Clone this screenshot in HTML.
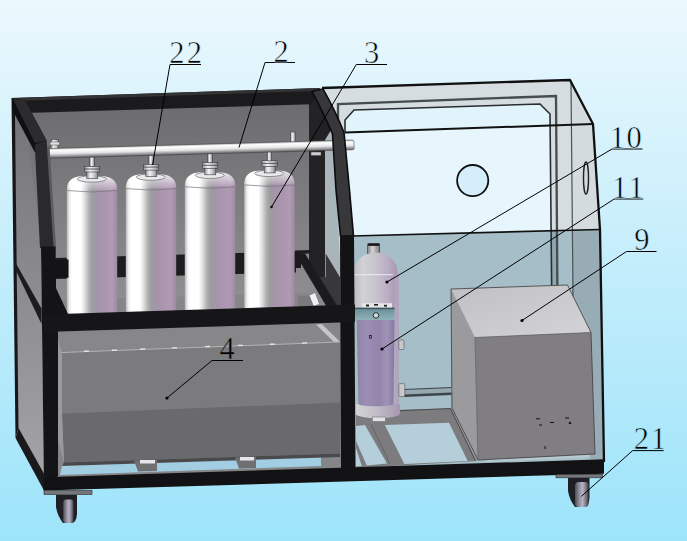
<!DOCTYPE html>
<html><head><meta charset="utf-8">
<style>
html,body{margin:0;padding:0;background:#fff;}
body{width:687px;height:541px;overflow:hidden;}
svg{display:block;}
text{font-family:"Liberation Serif","DejaVu Serif",serif;font-size:30.5px;fill:#000;stroke-width:0.55px;}
</style></head>
<body>
<svg width="687" height="541" viewBox="0 0 687 541">
<defs>
 <linearGradient id="bg" x1="0" y1="0" x2="0" y2="1">
  <stop offset="0" stop-color="#ebf8fd"/>
  <stop offset="0.5" stop-color="#c3edfb"/>
  <stop offset="1" stop-color="#9de4fa"/>
 </linearGradient>
 <linearGradient id="cyl" x1="0" y1="0" x2="1" y2="0">
  <stop offset="0" stop-color="#b4b4b6"/>
  <stop offset="0.05" stop-color="#ececec"/>
  <stop offset="0.1" stop-color="#ffffff"/>
  <stop offset="0.28" stop-color="#ffffff"/>
  <stop offset="0.36" stop-color="#dcdcdc"/>
  <stop offset="0.44" stop-color="#b0b0b2"/>
  <stop offset="0.5" stop-color="#9e9ea0"/>
  <stop offset="0.56" stop-color="#a097a3"/>
  <stop offset="0.65" stop-color="#a793ab"/>
  <stop offset="0.9" stop-color="#b09ab4"/>
  <stop offset="1" stop-color="#9e8aa2"/>
 </linearGradient>
 <linearGradient id="panel" x1="0" y1="0" x2="0" y2="1">
  <stop offset="0" stop-color="#6c6c6e"/>
  <stop offset="1" stop-color="#909092"/>
 </linearGradient>
 <linearGradient id="pipe" x1="0" y1="0" x2="0" y2="1">
  <stop offset="0" stop-color="#b4b4b6"/>
  <stop offset="0.2" stop-color="#ffffff"/>
  <stop offset="0.55" stop-color="#e6e6e8"/>
  <stop offset="0.8" stop-color="#9c9c9e"/>
  <stop offset="1" stop-color="#606062"/>
 </linearGradient>
 <linearGradient id="scyl" x1="0" y1="0" x2="1" y2="0">
  <stop offset="0" stop-color="#bcbcc0"/>
  <stop offset="0.2" stop-color="#d2d2d6"/>
  <stop offset="0.5" stop-color="#c6c4cc"/>
  <stop offset="0.8" stop-color="#b9abc3"/>
  <stop offset="1" stop-color="#a895b2"/>
 </linearGradient>
 <linearGradient id="pcyl" x1="0" y1="0" x2="1" y2="0">
  <stop offset="0" stop-color="#8d84a6"/>
  <stop offset="0.25" stop-color="#9c8eb6"/>
  <stop offset="0.6" stop-color="#9484ac"/>
  <stop offset="0.8" stop-color="#a193b7"/>
  <stop offset="1" stop-color="#8878a0"/>
 </linearGradient>
 <linearGradient id="sbase" x1="0" y1="0" x2="1" y2="0">
  <stop offset="0" stop-color="#d4d4d6"/>
  <stop offset="0.5" stop-color="#c0bcc6"/>
  <stop offset="1" stop-color="#a797b0"/>
 </linearGradient>
 <linearGradient id="teal" x1="0" y1="0" x2="0" y2="1">
  <stop offset="0" stop-color="#6a8c96"/>
  <stop offset="1" stop-color="#93b4bc"/>
 </linearGradient>
 <linearGradient id="noz" x1="0" y1="0" x2="1" y2="0">
  <stop offset="0" stop-color="#8a8a8c"/>
  <stop offset="0.4" stop-color="#d4d4d6"/>
  <stop offset="1" stop-color="#7a7a7c"/>
 </linearGradient>
 <linearGradient id="dome" x1="0" y1="0" x2="0" y2="1">
  <stop offset="0" stop-color="#ffffff" stop-opacity="0.75"/>
  <stop offset="1" stop-color="#ffffff" stop-opacity="0.1"/>
 </linearGradient>
 <linearGradient id="valve" x1="0" y1="0" x2="1" y2="0">
  <stop offset="0" stop-color="#9a9a9e"/>
  <stop offset="0.35" stop-color="#f4f4f6"/>
  <stop offset="0.7" stop-color="#c4c4c8"/>
  <stop offset="1" stop-color="#85858a"/>
 </linearGradient>
 <linearGradient id="wheel" x1="0" y1="0" x2="1" y2="0">
  <stop offset="0" stop-color="#4e4e56"/>
  <stop offset="0.3" stop-color="#8e8c9a"/>
  <stop offset="0.55" stop-color="#b6b4c2"/>
  <stop offset="0.8" stop-color="#7c7a88"/>
  <stop offset="1" stop-color="#3c3c44"/>
 </linearGradient>
 <linearGradient id="lpanel" x1="0" y1="0" x2="0" y2="1">
  <stop offset="0" stop-color="#747476"/>
  <stop offset="0.5" stop-color="#8c8c8e"/>
  <stop offset="1" stop-color="#a4a4a6"/>
 </linearGradient>
 <linearGradient id="boxtop" x1="0" y1="0" x2="1" y2="1">
  <stop offset="0" stop-color="#c0c0c2"/>
  <stop offset="1" stop-color="#d4d4d6"/>
 </linearGradient>
</defs>
<rect width="687" height="541" fill="url(#bg)"/>

<!-- ============ GLASS ENCLOSURE (right) ============ -->
<g id="glass">
 <!-- top face + back border -->
 <polygon points="322,88 570,80 593,124 600,229.500 345,236 345,132" fill="#d5dde0"/>
 <!-- back wall door opening -->
 <polygon points="354,110 540,104 550,114 550,231 352,236 345,132 345,120" fill="#e1f4fb"/>
 <!-- front glass clear area -->
 <polygon points="345,132.500 549.500,125.500 550,231 352,236" fill="#e6f6fc"/>
 <!-- right side face -->
 <polygon points="571,82 593,124 600,229.500 572,230" fill="#d3dbde"/>
 <!-- lower tinted region -->
 <polygon points="352,236 600,229.500 604,462 352,470" fill="#a5bec8"/>
 <polygon points="572,230 600,229.500 604,462 574,455" fill="#98acb5"/>
 <polygon points="551.300,231 557.200,230.800 558,375 552.500,375" fill="#8fa7b1"/>
 <!-- door frame lines -->
 <polyline points="338,135 338,104 556,96 558,375" fill="none" stroke="#464c50" stroke-width="2.3"/>
 <polyline points="345,132 345,120 354,110 540,104 550,114 552.500,375" fill="none" stroke="#2a2e30" stroke-width="1.6"/>
 <line x1="571" y1="82" x2="574" y2="400" stroke="#4a5256" stroke-width="1.2"/>
 <!-- outline -->
 <polyline points="322,88 570,80 593,124 600,230 604,462" fill="none" stroke="#111" stroke-width="2.3" stroke-linejoin="round"/>
 <polyline points="345,132.5 593,124" fill="none" stroke="#111" stroke-width="2"/>
 <polyline points="352,236 600,229.500" fill="none" stroke="#111" stroke-width="1.7"/>
 <circle cx="472.700" cy="180.600" r="15.600" fill="#d5effa" stroke="#111" stroke-width="1.8"/>
 <ellipse cx="586" cy="178" rx="2.5" ry="16" fill="none" stroke="#222" stroke-width="1.4"/>
</g>

<!-- floor of enclosure -->
<g id="floor">
 <polygon points="356,411 451.500,408.500 477,461 356,468" fill="#7c7c7f"/>
 <polygon points="356,426 365,425 387,463.500 356,466.500" fill="#b4ceda"/>
 <polygon points="384.800,425 449,422.700 467.700,461 404.400,464" fill="#b4ceda"/>
 <polyline points="371,424 390,464" fill="none" stroke="#5e5e62" stroke-width="0.8"/>
 <polyline points="399,410.700 450.500,408.500 475.500,461" fill="none" stroke="#4a4a4e" stroke-width="1"/>
 <polygon points="356,448 356,441 367,466 362,466.500" fill="#7c7c7f"/>
</g>

<!-- ============ BOX 9 ============ -->
<g id="box9">
 <polygon points="487,458.500 590,453.500 590,457.500 487,462" fill="#b8c8d0"/>
 <polygon points="451,289 567.5,285 591,332.5 475,337.5" fill="url(#boxtop)"/>
 <polygon points="475,337.5 591,332.5 595,454 478,460" fill="#807e82"/>
 <polygon points="451,289 475,337.5 478,460 476,460 451.400,408.500" fill="#9b9b9d"/>
 <polygon points="451,289 567.5,285 591,332.5 595,454 478,460 452,408" fill="none" stroke="#3c3c3e" stroke-width="0.8"/>
 <polyline points="475,337.5 591,332.5" fill="none" stroke="#5a5a5c" stroke-width="0.7"/>
 <polyline points="475,337.5 478,460" fill="none" stroke="#5a5a5c" stroke-width="0.7"/>
 <g fill="#111"><rect x="536" y="418.300" width="4" height="1"/><rect x="539" y="424.500" width="3" height="1"/><rect x="550" y="422" width="4" height="1"/><rect x="565" y="417.500" width="4" height="1"/><polygon points="570,421 571.500,424 568.500,424"/><rect x="544.600" y="446" width="1" height="3"/></g>
</g>

<!-- ============ SMALL CYLINDER 10/11 ============ -->
<g id="smallcyl">
 <polygon points="404,389 451.500,387 451.500,395 404,397" fill="#3d4549"/>
 <polygon points="404,390 451.500,388 451.500,392.500 404,394.500" fill="#96a8b0"/>
 <rect x="367.700" y="244" width="12" height="10" fill="url(#noz)" stroke="#3a3a3c" stroke-width="0.7"/>
 <rect x="368.200" y="243.300" width="11" height="2.600" fill="#18181a"/>
 <path d="M353.900,308 L353.900,271 A21.700,18.500 0 0 1 397.300,271 L397.300,308 Z" fill="url(#scyl)"/>
 <path d="M354.500,274.700 L393,274.700" stroke="#f0f0f2" stroke-width="0.9" fill="none"/>
 <rect x="362" y="303.200" width="30" height="5" fill="#e6e6e8"/>
 <rect x="366" y="304.500" width="3" height="2" fill="#222"/><rect x="374" y="304" width="4" height="1.600" fill="#222"/><rect x="384" y="304.800" width="3" height="1.800" fill="#222"/>
 <rect x="394.500" y="275" width="4.500" height="135" fill="#b2a5be"/>
 <rect x="354.800" y="308" width="39.700" height="12.500" fill="url(#teal)"/>
 <rect x="354.800" y="307.600" width="39.700" height="1.600" fill="#3e5862"/>
 <path d="M356.600,320 L394.500,320 L393.600,404 A17.500,2.500 0 0 1 358.500,404 Z" fill="url(#pcyl)"/>
 <path d="M355.700,404 L358.500,404 A17.500,2.500 0 0 0 393.600,404 L400,404 L400,414 A22.200,4.500 0 0 1 355.700,414 Z" fill="url(#sbase)"/>
 <rect x="372.300" y="417" width="13" height="4.500" fill="#e2e2e4" stroke="#666" stroke-width="0.5"/>
 <rect x="398.800" y="340" width="5.200" height="9.500" rx="1" fill="#c9c9cb" stroke="#55555a" stroke-width="0.6"/>
 <rect x="398.800" y="383.600" width="6" height="13" rx="1" fill="#c9c9cb" stroke="#55555a" stroke-width="0.6"/>
 <circle cx="376" cy="315.400" r="2.800" fill="#c6d8dc" stroke="#222" stroke-width="0.9"/>
 <rect x="369.500" y="335.500" width="2" height="2.600" fill="none" stroke="#111" stroke-width="0.7"/>
</g>

<!-- ============ LEFT FRAME ============ -->
<g id="frame">
 <!-- left side panel -->
 <polygon points="14,100 40,145 44,480 18,430" fill="url(#lpanel)"/>
 <!-- back panel -->
 <polygon points="25,110 312,102 312,300 47,308" fill="url(#panel)"/>
 <polygon points="47,300 345,292 345,470 47,480" fill="#868688"/>
 <!-- glimpse strip right of back post -->
 <polygon points="324.600,122 334,128 342,300 325,300" fill="#a9b5bb"/>
 <!-- back right post -->
 <polygon points="309,90 322,90 334,125 325,140 325,278 309,278" fill="#232325"/>
 <polygon points="309,278 345,278 345,310 309,310" fill="#8a8a8c"/>
 <!-- mid shelf back beam -->
 <polygon points="55,258 296,251.500 296,272.500 55,279" fill="#1d1d1f"/>
 <polygon points="295,250.500 311,250 311,253.500 295,254" fill="#1d1d1f"/>
 <!-- top beam -->
 <polygon points="12,98 320,88 311,104.300 25,113" fill="#1b1b1d"/>
 <polygon points="12,98 320,88 318,91 15,101" fill="#333335"/>
 <!-- left back post -->
 <polygon points="11.500,98 14.800,99 18.500,428 15.500,438" fill="#161618"/>
 <!-- left shelf side beam -->
 <polygon points="14,260 41.500,308.500 41.500,324 14,266.500" fill="#1c1c1e"/>
 <!-- lower-left diagonal -->
 <polygon points="15.500,438 18.500,428 45,475.500 44,490.500" fill="#1a1a1c"/>
</g>

<!-- ============ TANK 4 ============ -->
<g id="tank">
 <polygon points="56,334 318,324.500 340,342 62,352.500" fill="#878789"/>
 <polygon points="316,324.400 322,324.200 340,341.800 334,342" fill="#c6c6c8"/>
 <polygon points="62,352.500 340,342 340,402.500 62,413.500" fill="#7b7b7d"/>
 <polygon points="62,413.500 340,402.500 340,453.500 64,462.500" fill="#6a6a6c"/>
 <polygon points="56,334 62,352.500 62,413.500 64,462.500 58,440" fill="#9a9a9c"/>
 <polyline points="62,352.500 340,342" fill="none" stroke="#b9b9bb" stroke-width="0.9"/>
 <g fill="#e8e8ea"><rect x="84" y="350.600" width="5" height="1.300" transform="rotate(-2 84 351)"/><rect x="112" y="349.600" width="5" height="1.300" transform="rotate(-2 112 350)"/><rect x="140" y="348.500" width="5" height="1.300" transform="rotate(-2 140 349)"/><rect x="172" y="347.300" width="5" height="1.300" transform="rotate(-2 172 348)"/><rect x="205" y="346" width="5" height="1.300" transform="rotate(-2 205 347)"/><rect x="238" y="344.800" width="5" height="1.300" transform="rotate(-2 238 345)"/><rect x="270" y="343.600" width="5" height="1.300" transform="rotate(-2 270 344)"/><rect x="302" y="342.400" width="5" height="1.300" transform="rotate(-2 302 343)"/></g>
 <!-- under tank floor glimpses -->
 <polygon points="62,465.500 321,456.500 321,466 60,475" fill="#a2cee3"/>
 <polyline points="62,465.500 321,456.500" fill="none" stroke="#d6e8f0" stroke-width="0.8"/>
 <polygon points="64,462.500 340,453.500 340,457 62,466" fill="#4a4a4c"/>
 <polygon points="134,460.500 157,459.800 157,471 138,471.600" fill="#707073"/>
 <rect x="140" y="460" width="15" height="3.500" fill="#e6e6e8"/>
 <polygon points="235,457.500 256,456.800 256,468 239,468.500" fill="#707073"/>
 <rect x="240" y="457" width="14" height="3.500" fill="#e6e6e8"/>
</g>

<!-- ============ CYLINDERS ============ -->
<g id="cyls">
 <g id="c1" transform="translate(0.8 0)">
  <path d="M66,318 L66,190 C66,181.500 71,177 80,176.300 L103,176.300 C111.500,177 116.400,181.500 116.400,190 L116.400,318 Z" fill="url(#cyl)"/>
  <path d="M66,190 C66,181.500 71,177 80,176.300 L103,176.300 C111.500,177 116.400,181.500 116.400,190 Z" fill="url(#dome)"/>
  <path d="M66.300,190.500 Q91,193.500 116.200,190.500" fill="none" stroke="#77737b" stroke-width="0.7"/>
  <ellipse cx="91" cy="179" rx="14.500" ry="3.200" fill="#e9e9eb" stroke="#6a6a6e" stroke-width="0.7"/>
  <rect x="86" y="171.500" width="11" height="7" fill="url(#valve)" stroke="#3c3c40" stroke-width="0.6"/>
  <rect x="83.700" y="166.300" width="15.300" height="5.700" fill="url(#valve)" stroke="#3c3c40" stroke-width="0.6"/>
  <line x1="83.700" y1="169" x2="99" y2="169" stroke="#3c3c40" stroke-width="0.8"/>
  <rect x="89" y="157" width="4.500" height="9.500" fill="url(#valve)" stroke="#3c3c40" stroke-width="0.6"/>
 </g>
 <use href="#c1" x="59" y="-1.900"/>
 <use href="#c1" x="118" y="-3.700"/>
 <use href="#c1" x="177.400" y="-5.600"/>
</g>

<!-- pipe -->
<g id="pipeg">
 <rect x="51" y="139.500" width="7.500" height="10" fill="url(#valve)" stroke="#444" stroke-width="0.6"/>
 <rect x="50" y="142" width="9.500" height="3" fill="#e4e4e6" stroke="#444" stroke-width="0.5"/>
 <rect x="290.700" y="132" width="4.500" height="10.500" fill="url(#valve)" stroke="#444" stroke-width="0.6"/>
 <rect x="48.700" y="148.500" width="305.500" height="9.800" rx="2" fill="url(#pipe)" stroke="#3a3a3c" stroke-width="0.5" transform="rotate(-1.600 48.700 153.400)"/>
</g>

<!-- front parts of frame -->
<g id="framefront">
 <!-- top-left diag beam -->
 <polygon points="11.800,98.200 25,100.300 46.500,140.500 46.500,152 34.700,152 13.200,111.400" fill="#101012"/>
 <polygon points="13,99 25,100.300 46.500,140.500 35,143" fill="#2c2c2e"/>
 <!-- front-left post -->
 <polygon points="46.500,146 49.500,146 56,247 53,247" fill="#5c5c5e"/>
 <polygon points="34.700,144.500 46.500,140.500 53.500,247 40,248" fill="#2a2a2c"/>
 <polygon points="41,246.500 55.700,246.500 55.700,259.600 68.500,259.600 68.500,277.700 56,277.700 56,288 68,314 58,314 58,476 44,488" fill="#141416"/>
 <!-- right diag post -->
 <path d="M312,91.500 L323,88.800 Q336,112 344,132.500 L349.500,190 L353.500,236 L340.500,236 L336,190 L332.500,134 Q322,110 312,91.500 Z" fill="#38383a" stroke="#0c0c0e" stroke-width="1.6"/>
 <!-- front-right post lower -->
 <polygon points="340,235 354,235 355.500,470 341,470" fill="#131315"/>
 <!-- shelf right beam -->
 <polygon points="310.500,277 325.700,277 325.700,253.500 341,279 341,305 327,306" fill="#38383a"/>
 <polygon points="295,253.500 305,253.500 337,305.500 326.500,306.500" fill="#1b1b1d"/>
 <polygon points="295,253.500 301,253.500 301,268 295,268" fill="#1b1b1d"/>
 <polygon points="309.500,295.500 315,293 319,304 313.500,306" fill="#f0f0f2"/>
 <polygon points="298,296 309.500,295.500 313.500,306 298,306.500" fill="#7a7a7c"/>
 <rect x="311" y="152" width="10" height="3.500" fill="#cfcfd1" stroke="#444" stroke-width="0.5"/>
 <!-- shelf front beam -->
 <polygon points="44,314.500 355,304.500 355,322 44,332" fill="#161618"/>
 <!-- base beam -->
 <polygon points="43.500,490.500 44,477.300 604,459.300 604,473.700" fill="#121214"/>
</g>

<!-- wheels -->
<g id="wheels">
 <rect x="44" y="490.500" width="48" height="4" fill="#77777b" stroke="#2a2a2c" stroke-width="0.6"/>
 <path d="M56,495 L77,495 L77,514 Q76.500,523 71,523 L63,523 Q57.500,516 56,507 Z" fill="#1f1f25"/>
 <rect x="63.200" y="499.500" width="10.400" height="23.500" rx="3" fill="url(#wheel)"/>
 <rect x="556" y="474.300" width="46.500" height="3.500" fill="#77777b" stroke="#2a2a2c" stroke-width="0.6"/>
 <path d="M568,478 L589.500,478 L589.500,498 Q589,507 583,507 L575,507 Q569.500,500 568,491 Z" fill="#1f1f25"/>
 <rect x="575" y="482" width="13.500" height="25" rx="3.500" fill="url(#wheel)"/>
</g>

<!-- ============ LABELS ============ -->
<g id="labels" stroke="#000" stroke-width="1" fill="none">
 <polyline points="201,64.500 170,64.500 152.500,165"/>
 <polyline points="295,62.500 265,62.500 239,147.500"/>
 <polyline points="387,64.500 356.300,64.500 271.500,207"/>
 <polyline points="642.500,149 612,149 387,282"/>
 <polyline points="643.200,199 614.200,199 382,349"/>
 <polyline points="656.500,251.500 626.500,251.500 522,320.500"/>
 <polyline points="663.600,450.600 632.600,450.600 581.300,496.400"/>
 <polyline points="243,360.500 212,360.500 167,398"/>
</g>
<g fill="#000">
 <circle cx="387" cy="282" r="1.6"/><circle cx="382" cy="349" r="1.6"/><circle cx="522" cy="320.500" r="1.6"/><circle cx="167" cy="398" r="1.6"/><circle cx="271.500" cy="207" r="1.2"/>
</g>
<text x="169.2" y="62.5" letter-spacing="2.2" stroke="#e3f6fd">22</text>
<text x="273.5" y="61.5" stroke="#e3f6fd">2</text>
<text x="364" y="63" stroke="#e3f6fd">3</text>
<text x="609.8" y="148" letter-spacing="1.5" stroke="#d7f2fc">10</text>
<text x="612" y="198" letter-spacing="2.5" stroke="#cff0fc">11</text>
<text x="634.2" y="249.5" stroke="#c8eefb">9</text>
<text x="633.7" y="448.7" letter-spacing="1.8" stroke="#abe7fa">21</text>
<text x="219.5" y="359" stroke="#7c7c7e">4</text>
</svg>
</body></html>
